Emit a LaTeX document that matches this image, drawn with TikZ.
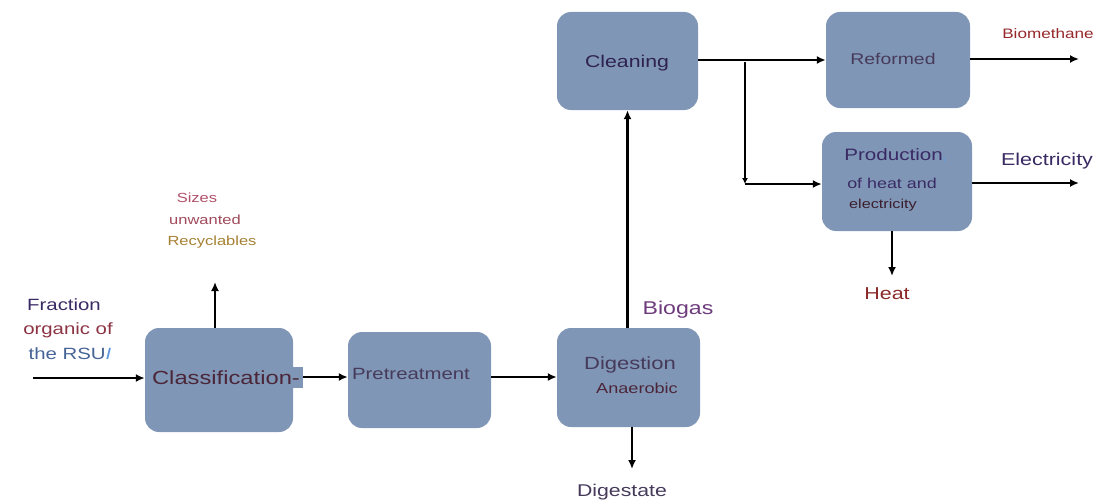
\documentclass[tikz,border=0pt]{standalone}
\usepackage{fontspec}
\setmainfont[FakeStretch=1.25]{Liberation Sans}
\usetikzlibrary{arrows.meta}
\definecolor{boxc}{RGB}{128,150,182}
\definecolor{dkpur}{RGB}{58,42,100}
\definecolor{dkmar}{RGB}{74,38,56}
\definecolor{redbr}{RGB}{140,52,68}
\definecolor{blu}{RGB}{70,100,150}
\definecolor{ltblu}{RGB}{90,150,220}
\definecolor{pink}{RGB}{176,80,106}
\definecolor{rosy}{RGB}{160,74,90}
\definecolor{gold}{RGB}{165,128,50}
\definecolor{purp}{RGB}{110,60,125}
\definecolor{darkt}{RGB}{70,58,90}
\definecolor{dred}{RGB}{150,40,42}
\definecolor{heatc}{RGB}{138,42,42}
\tikzset{
  blk/.style={draw=none,fill=boxc,rounded corners=14pt,inner sep=0pt},
  arr/.style={line width=2.3pt,-{Latex[length=9pt,width=8pt]}},
  lbl/.style={inner sep=0pt,anchor=center},
}
\newcommand{\fs}[1]{\fontsize{#1}{#1}\selectfont}
\begin{document}
\begin{tikzpicture}[x=1pt,y=-1pt]
\useasboundingbox (0,0) rectangle (1097,503);
% boxes
\node[blk,minimum width=148pt,minimum height=104pt] (cls) at (219,380) {};
\node[fill=boxc,inner sep=0pt,minimum width=12pt,minimum height=21pt] (tab) at (297,377) {};
\node[blk,minimum width=143pt,minimum height=96pt] (pre) at (419.5,380) {};
\node[blk,minimum width=143pt,minimum height=99pt] (dig) at (628.5,377.5) {};
\node[blk,minimum width=141pt,minimum height=98pt] (cln) at (627.5,61) {};
\node[blk,minimum width=144pt,minimum height=96pt] (ref) at (898,60) {};
\node[blk,minimum width=150pt,minimum height=99pt] (prod) at (897,181.5) {};
% box texts
\node[lbl,text=dkmar] (tcls) at (226,378) {\fs{19}Classification-};
\node[lbl,text=darkt] (tpre) at (411,374) {\fs{16.3}Pretreatment};
\node[lbl,text=darkt] (tdig1) at (630,365) {\fs{17.6}Digestion};
\node[lbl,text=dkmar] (tdig2) at (637,388) {\fs{14.5}Anaerobic};
\node[lbl,text=dkpur!80!black] (tcln) at (627,63) {\fs{17}Cleaning};
\node[lbl,text=darkt] (tref) at (893,59) {\fs{15.5}Reformed};
\node[lbl,text=dkpur] (tp1) at (895,156) {\fs{16.5}Production\textcolor{ltblu}{\fs{8}\raisebox{-2pt}{ı}}};
\node[lbl,text=dkpur] (tp2) at (892,183) {\fs{14.3}of heat and};
\node[lbl,text=dkmar!80!black] (tp3) at (883,205) {\fs{13}electricity};
% outside labels
\node[lbl,text=dkpur] (l1) at (64,305) {\fs{16.3}Fraction};
\node[lbl,text=redbr] (l2) at (68,330) {\fs{16.3}organic of};
\node[lbl,text=blu] (l3) at (70,354) {\fs{16.3}the RSU\textcolor{ltblu}{\textit{I}}};
\node[lbl,text=pink] (s1) at (197,198) {\fs{13.2}Sizes};
\node[lbl,text=rosy] (s2) at (205,220) {\fs{13.2}unwanted};
\node[lbl,text=gold] (s3) at (212,242) {\fs{13.2}Recyclables};
\node[lbl,text=purp] (bio) at (678,310) {\fs{18.5}Biogas};
\node[lbl,text=darkt] (dgt) at (622,492) {\fs{17}Digestate};
\node[lbl,text=dred] (bm) at (1048,34) {\fs{13.7}Biomethane};
\node[lbl,text=dkpur] (el) at (1047,161) {\fs{17.2}Electricity};
\node[lbl,text=heatc] (ht) at (887,294) {\fs{17.2}Heat};
% coordinates
\coordinate (in) at (33,378);
\coordinate (up) at (215,282);
\coordinate (dg) at (632,469);
\coordinate (br) at (745,62);
\coordinate (brc) at (745,184);
\coordinate (bmo) at (1079,59);
\coordinate (elo) at (1079,183);
\coordinate (hto) at (892,276);
% connectors
\draw[arr] (in) -- (in -| cls.west);
\draw[arr] (up |- cls.north) -- (up);
\draw[arr] (tab.east) -- (tab.east -| pre.west);
\draw[arr] (pre.east |- 0,377) -- (dig.west |- 0,377);
\draw[arr] (cln.south |- dig.north) -- (cln.south);
\draw[arr] (dg |- dig.south) -- (dg);
\draw[arr] (cln.east |- 0,60) -- (ref.west |- 0,60);
\draw[line width=2.6pt,-{Latex[length=6pt,width=6pt]}] (br) -- (brc);
\draw[arr] (brc) -- (prod.west |- brc);
\draw[arr] (ref.east |- bmo) -- (bmo);
\draw[arr] (prod.east |- elo) -- (elo);
\draw[arr] (hto |- prod.south) -- (hto);
\end{tikzpicture}
\end{document}
